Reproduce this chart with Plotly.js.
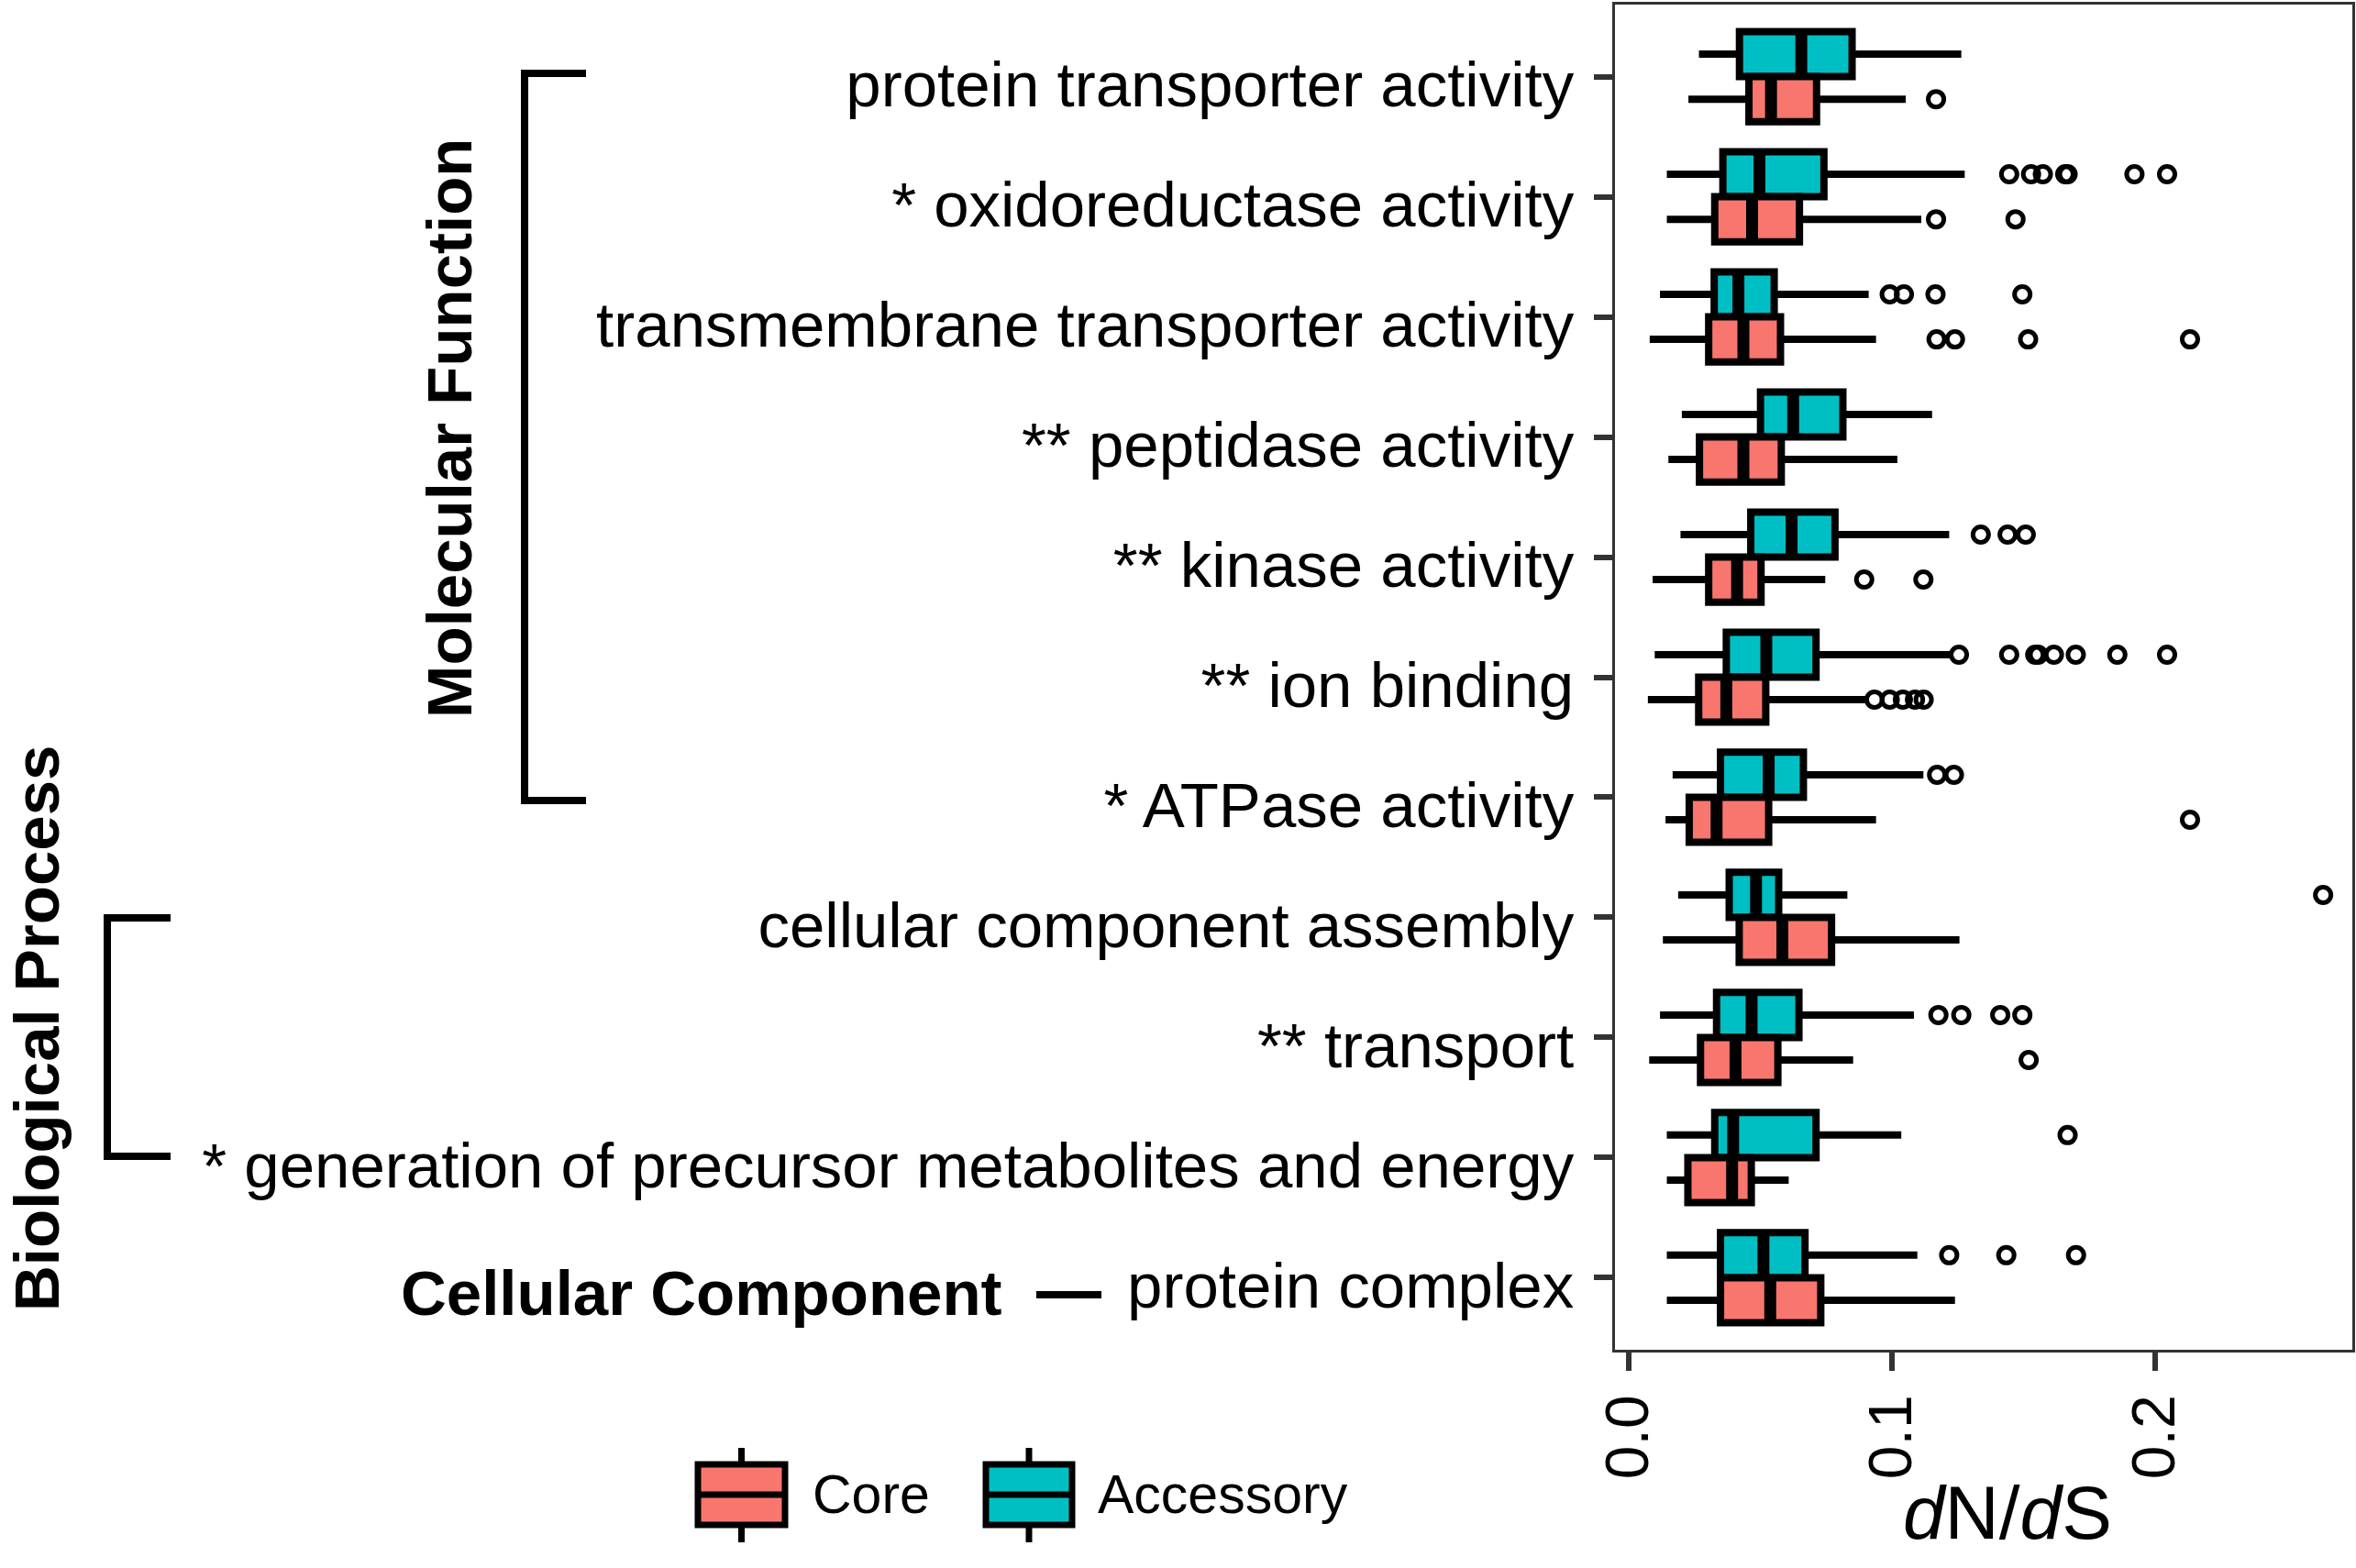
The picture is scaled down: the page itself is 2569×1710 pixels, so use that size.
<!DOCTYPE html>
<html>
<head>
<meta charset="utf-8">
<script src="https://cdn.plot.ly/plotly-3.0.1.min.js"></script>
<style>html,body{margin:0;padding:0;background:#fff;}#chart{width:2569px;height:1710px;}</style>
</head>
<body>
<div id="chart"></div>
<script>
// ---------------- data (top to bottom) ----------------
const categories = [
  "protein transporter activity",
  "* oxidoreductase activity",
  "transmembrane transporter activity",
  "** peptidase activity",
  "** kinase activity",
  "** ion binding",
  "* ATPase activity",
  "cellular component assembly",
  "** transport",
  "* generation of precursor metabolites and energy",
  "protein complex"
];
const seriesNames = ["Core", "Accessory"];

const accLower  = [0.0267, 0.0145, 0.0119, 0.0202, 0.0197, 0.0099, 0.0167, 0.0188, 0.0119, 0.0145, 0.0145];
const accQ1     = [0.0421, 0.0358, 0.0325, 0.0501, 0.0464, 0.0371, 0.0349, 0.0382, 0.0334, 0.0327, 0.0349];
const accMedian = [0.0656, 0.0497, 0.0417, 0.0625, 0.0619, 0.0523, 0.0532, 0.0484, 0.0467, 0.0397, 0.0512];
const accQ3     = [0.0849, 0.0742, 0.0553, 0.0814, 0.0784, 0.0712, 0.0664, 0.0570, 0.0647, 0.0712, 0.0670];
const accUpper  = [0.1264, 0.1277, 0.0912, 0.1153, 0.1218, 0.1227, 0.1120, 0.0831, 0.1084, 0.1036, 0.1097];
const accOutliers = [
  [],
  [0.1446, 0.1529, 0.1574, 0.1659, 0.1668, 0.1922, 0.2046],
  [0.0992, 0.1046, 0.1166, 0.1496],
  [],
  [0.1338, 0.1440, 0.1509],
  [0.1255, 0.1446, 0.1545, 0.1556, 0.1616, 0.1699, 0.1857, 0.2046],
  [0.1172, 0.1236],
  [0.2639],
  [0.1177, 0.1264, 0.1412, 0.1496],
  [0.1668],
  [0.1218, 0.1435, 0.1700]
];

const coreLower  = [0.0227, 0.0145, 0.0080, 0.0151, 0.0091, 0.0073, 0.0140, 0.0130, 0.0078, 0.0145, 0.0145];
const coreQ1     = [0.0457, 0.0327, 0.0304, 0.0269, 0.0304, 0.0266, 0.0230, 0.0420, 0.0273, 0.0225, 0.0349];
const coreMedian = [0.0541, 0.0469, 0.0436, 0.0436, 0.0412, 0.0371, 0.0334, 0.0584, 0.0406, 0.0393, 0.0538];
const coreQ3     = [0.0714, 0.0649, 0.0577, 0.0580, 0.0503, 0.0521, 0.0532, 0.0771, 0.0567, 0.0466, 0.0730];
const coreUpper  = [0.1053, 0.1112, 0.0940, 0.1021, 0.0747, 0.0912, 0.0940, 0.1257, 0.0853, 0.0608, 0.1240];
const coreOutliers = [
  [0.1168],
  [0.1168, 0.1470],
  [0.1170, 0.1240, 0.1518, 0.2133],
  [],
  [0.0895, 0.1120],
  [0.0934, 0.0992, 0.1042, 0.1088, 0.1121],
  [0.2133],
  [],
  [0.1520],
  [],
  []
];

const xTickVals = [0, 0.1, 0.2];
const xTickText = ["0.0", "0.1", "0.2"];
const xTitle = "<i>d</i>N/<i>d</i>S";

// ---------------- styling ----------------
const FONT = "Liberation Sans, Arial, Helvetica, sans-serif";
const CORE_COL = "#F8766D";
const ACC_COL = "#00BFC4";
const DODGE = 0.1875;      // half of the dodge width 0.75/2
const BOXW = 0.375;

const idx = categories.map((_, i) => i);
const corePos = idx.map(i => i + DODGE);
const accPos = idx.map(i => i - DODGE);

function boxTrace(name, pos, lo, q1, med, q3, up, col) {
  return {
    type: "box", orientation: "h", name: name, showlegend: false,
    y: pos, q1: q1, median: med, q3: q3, lowerfence: lo, upperfence: up,
    width: BOXW, boxpoints: false, whiskerwidth: 0,
    fillcolor: col, line: {color: "#000", width: 8},
    hoverinfo: "x"
  };
}
function medianTrace(pos, med) {
  const xs = [], ys = [];
  med.forEach((m, i) => { xs.push(m, m, null); ys.push(pos[i] - BOXW / 2, pos[i] + BOXW / 2, null); });
  return {type: "scatter", mode: "lines", x: xs, y: ys, showlegend: false, hoverinfo: "skip",
          line: {color: "#000", width: 13}};
}
function outlierTrace(pos, outs) {
  const xs = [], ys = [];
  outs.forEach((arr, i) => arr.forEach(v => { xs.push(v); ys.push(pos[i]); }));
  return {type: "scatter", mode: "markers", x: xs, y: ys, showlegend: false,
          marker: {symbol: "circle-open", size: 17, color: "#000", line: {width: 5, color: "#000"}}};
}

const traces = [
  boxTrace("Accessory", accPos, accLower, accQ1, accMedian, accQ3, accUpper, ACC_COL),
  boxTrace("Core", corePos, coreLower, coreQ1, coreMedian, coreQ3, coreUpper, CORE_COL),
  medianTrace(accPos, accMedian),
  medianTrace(corePos, coreMedian),
  outlierTrace(accPos, accOutliers),
  outlierTrace(corePos, coreOutliers)
];

// pixel -> paper helpers for decorations outside the panel
const W = 2569, H = 1710, L = 1761, R = 2565, T = 5, B = 1472;
const px = p => (p - L) / (R - L);
const py = p => (B - p) / (B - T);

function line(x0, y0, x1, y1, w) {
  return {type: "line", xref: "paper", yref: "paper", x0: px(x0), y0: py(y0), x1: px(x1), y1: py(y1),
          line: {color: "#000", width: w}};
}
const BW = 8;
const shapes = [
  // Molecular Function bracket
  line(572, 80, 572, 873, BW), line(568, 80, 639, 80, BW), line(568, 873, 639, 873, BW),
  // Biological Process bracket
  line(117, 1001, 117, 1261, BW), line(113, 1001, 186, 1001, BW), line(113, 1261, 186, 1261, BW),
  // Cellular Component dash
  line(1130, 1412, 1201, 1412, BW)
];
// legend keys
function legendKey(x0, x1, col) {
  const xc = (x0 + x1) / 2;
  shapes.push(line(xc, 1579, xc, 1597, 7));
  shapes.push(line(xc, 1663, xc, 1682, 7));
  shapes.push({type: "rect", xref: "paper", yref: "paper", x0: px(x0), x1: px(x1), y0: py(1597), y1: py(1663),
               fillcolor: col, line: {color: "#000", width: 7}});
  shapes.push(line(x0, 1630, x1, 1630, 7));
}
legendKey(761, 856, CORE_COL);
legendKey(1075, 1169, ACC_COL);

function ann(text, x, y, opts) {
  return Object.assign({text: text, xref: "paper", yref: "paper", x: px(x), y: py(y), showarrow: false,
                        font: {family: FONT, size: 69, color: "#000"}}, opts || {});
}
const annotations = [
  ann("<b>Molecular Function</b>", 490, 467, {textangle: -90, xanchor: "center", yanchor: "middle"}),
  ann("<b>Biological Process</b>", 40, 1122, {textangle: -90, xanchor: "center", yanchor: "middle"}),
  ann("<b>Cellular Component</b>", 1095, 1410, {xanchor: "right", yanchor: "middle"}),
  ann(seriesNames[0], 884, 1630, {xanchor: "left", yanchor: "middle", font: {family: FONT, size: 59, color: "#000"}}),
  ann(seriesNames[1], 1195, 1630, {xanchor: "left", yanchor: "middle", font: {family: FONT, size: 59, color: "#000"}}),
  ann(xTitle, 2189, 1650, {xanchor: "center", yanchor: "middle", font: {family: FONT, size: 82, color: "#000"}})
];

const layout = {
  width: W, height: H,
  paper_bgcolor: "#fff", plot_bgcolor: "#fff",
  margin: {l: L, r: W - R, t: T, b: H - B, pad: 0},
  showlegend: false,
  font: {family: FONT, color: "#000"},
  xaxis: {
    range: [-0.0052, 0.275], tickvals: xTickVals, ticktext: xTickText, tickangle: -90,
    tickfont: {family: FONT, size: 66, color: "#000"},
    ticks: "outside", ticklen: 20, tickwidth: 6, tickcolor: "#333",
    showline: true, linecolor: "#333", linewidth: 3, mirror: true,
    showgrid: false, zeroline: false
  },
  yaxis: {
    range: [10.6, -0.6], tickvals: idx, ticktext: categories,
    tickfont: {family: FONT, size: 69, color: "#000"},
    ticks: "outside", ticklen: 20, tickwidth: 6, tickcolor: "#333", ticklabelstandoff: 8,
    ticklabelshift: -8,
    showline: true, linecolor: "#333", linewidth: 3, mirror: true,
    showgrid: false, zeroline: false
  },
  shapes: shapes,
  annotations: annotations
};

Plotly.newPlot("chart", traces, layout, {displayModeBar: false, staticPlot: true});
</script>
</body>
</html>
